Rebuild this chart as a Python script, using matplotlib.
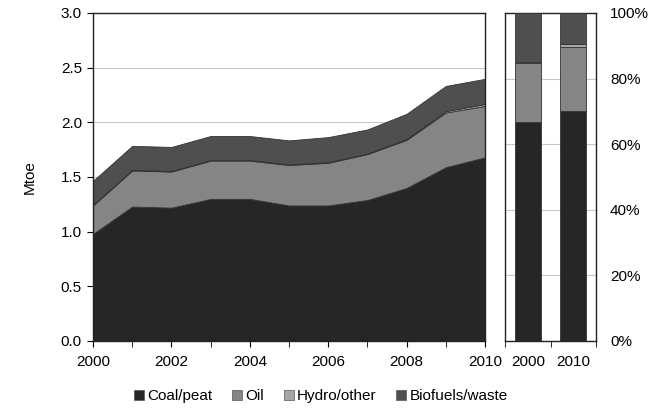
import matplotlib
matplotlib.use("Agg")
import matplotlib.pyplot as plt
import numpy as np
from matplotlib.patches import Patch

plt.rcParams["font.family"] = ["Liberation Sans", "DejaVu Sans"]
plt.rcParams["font.size"] = 11

years = [2000, 2001, 2002, 2003, 2004, 2005, 2006, 2007, 2008, 2009, 2010]
coal = [0.98, 1.23, 1.22, 1.30, 1.30, 1.24, 1.24, 1.29, 1.40, 1.59, 1.68]
oil = [0.26, 0.33, 0.33, 0.35, 0.35, 0.37, 0.39, 0.42, 0.44, 0.50, 0.47]
hydro = [0.005, 0.005, 0.005, 0.005, 0.005, 0.005, 0.005, 0.005, 0.008, 0.013, 0.018]
biofuels = [0.22, 0.22, 0.22, 0.22, 0.22, 0.22, 0.23, 0.22, 0.23, 0.23, 0.23]

labels = ["Coal/peat", "Oil", "Hydro/other", "Biofuels/waste"]
colors = ["#262626", "#858585", "#a6a6a6", "#4f4f4f"]
bar_years = ["2000", "2010"]

series = np.array([coal, oil, hydro, biofuels])
# shares for first and last year
shares = series[:, [0, -1]] / series[:, [0, -1]].sum(axis=0) * 100

fig = plt.figure(figsize=(6.61, 4.17), dpi=100)
ax1 = fig.add_axes([93 / 661, 1 - 341 / 417, 392 / 661, 328 / 417])
ax2 = fig.add_axes([505 / 661, 1 - 341 / 417, 91 / 661, 328 / 417])

# left: stacked area
ax1.stackplot(years, series, colors=colors, edgecolor="#333333", linewidth=0.6)
ax1.set_xlim(2000, 2010)
ax1.set_ylim(0, 3.0)
ax1.set_yticks(np.arange(0, 3.01, 0.5))
ax1.set_yticklabels([f"{v:.1f}" for v in np.arange(0, 3.01, 0.5)])
ax1.set_xticks(years, minor=True)
ax1.set_xticks(years[::2])
ax1.tick_params(axis="x", which="both", direction="out", length=4, pad=6)
ax1.tick_params(axis="y", direction="out", length=4, pad=4)
ax1.grid(axis="y", color="#c8c8c8", linewidth=0.8)
ax1.set_axisbelow(True)
ax1.set_ylabel("Mtoe", labelpad=17)
for s in ax1.spines.values():
    s.set_linewidth(1.0)
    s.set_color("#222222")

# right: 100% stacked bars
x = np.arange(len(bar_years))
bottom = np.zeros(len(bar_years))
for row, c in zip(shares, colors):
    ax2.bar(x, row, bottom=bottom, width=0.57, color=c, edgecolor="#333333",
            linewidth=0.6, zorder=3)
    bottom += row
ax2.set_xlim(-0.5, 1.5)
ax2.set_ylim(0, 100)
ax2.set_xticks(x)
ax2.set_xticklabels(bar_years)
ax2.set_xticks([-0.5, 0.5, 1.5], minor=True)
ax2.tick_params(axis="x", which="major", length=0, pad=10)
ax2.tick_params(axis="x", which="minor", direction="out", length=4)
ax2.yaxis.tick_right()
ax2.set_yticks(np.arange(0, 101, 20))
ax2.set_yticklabels([f"{v}%" for v in range(0, 101, 20)])
ax2.tick_params(axis="y", length=0, pad=10)
ax2.grid(axis="y", color="#c8c8c8", linewidth=0.8, zorder=0)
for s in ax2.spines.values():
    s.set_linewidth(1.0)
    s.set_color("#222222")

handles = [Patch(facecolor=c, edgecolor="#555555", linewidth=0.5) for c in colors]
fig.legend(handles, labels, loc="center", bbox_to_anchor=(321 / 661, 1 - 396 / 417),
           ncol=4, frameon=False, handlelength=0.65, handleheight=0.65,
           handletextpad=0.2, columnspacing=1.3, fontsize=11)

fig.savefig("out.png", dpi=100)
